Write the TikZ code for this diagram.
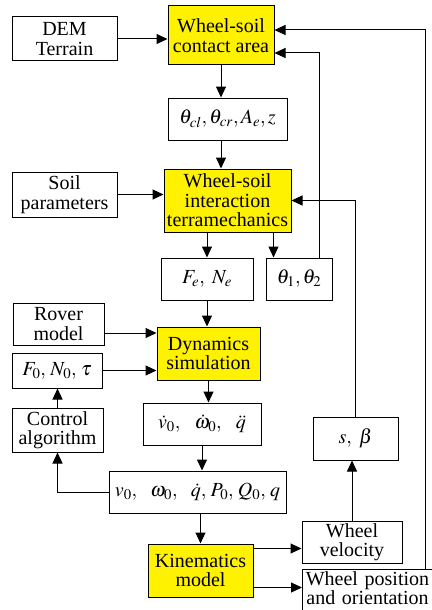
\documentclass[tikz,border=0pt]{standalone}
\usepackage{mathptmx}
\usepackage{fontspec}
\setmainfont{Liberation Serif}
\usetikzlibrary{arrows.meta}
\tikzset{
  box/.style={draw, line width=1pt, inner sep=0pt, align=center,
    font=\fontsize{20}{19.5}\selectfont},
  ybox/.style={box, fill=yellow},
  arr/.style={line width=1pt, -{Triangle[length=11pt,width=10pt]}},
  ln/.style={line width=1pt}
}
\begin{document}
\begin{tikzpicture}[x=1pt,y=-1pt]
\useasboundingbox (0,0) rectangle (431,610);
% nodes
\node[box,  minimum width=105, minimum height=44] (dem) at (64.5,39) {DEM\\Terrain};
\node[ybox, minimum width=106, minimum height=59] (contact) at (221,35.5) {Wheel-soil\\contact area};
\node[box,  minimum width=119, minimum height=42] (thc) at (227.5,119) {$\theta_{cl}, \theta_{cr}, A_e, z$};
\node[box,  minimum width=105, minimum height=45] (soil) at (64.5,194.5) {Soil\\parameters};
\node[ybox, minimum width=127, minimum height=63] (inter) at (227.5,200.5) {Wheel-soil\\interaction\\terramechanics};
\node[box,  minimum width=92,  minimum height=42] (fe) at (207,279) {$F_e,\ N_e$};
\node[box,  minimum width=66,  minimum height=42] (th12) at (299,279) {$\theta_1, \theta_2$};
\node[box,  minimum width=91,  minimum height=42] (rover) at (58.5,324) {Rover\\model};
\node[ybox, minimum width=103, minimum height=53] (dyn) at (208.5,353.5) {Dynamics\\simulation};
\node[box,  minimum width=90,  minimum height=35] (f0) at (57,370.5) {$F_0,\, N_0,\, \tau$};
\node[box,  minimum width=91,  minimum height=44] (ctrl) at (57.5,430) {Control\\algorithm};
\node[box,  minimum width=118, minimum height=42] (dot) at (202,424) {$\dot{v}_0,\hspace{12pt}\dot{\omega}_0,\hspace{12pt}\ddot{q}$};
\node[box,  minimum width=85,  minimum height=43] (sb) at (355.5,438.5) {$s,\ \beta$};
\node[box,  minimum width=177, minimum height=42] (v0) at (197.5,492) {$v_0,\hspace{11pt}\omega_0,\hspace{11pt}\dot{q},\hspace{2pt}P_0,\hspace{2pt}Q_0,\hspace{2pt}q$};
\node[ybox, minimum width=105, minimum height=53] (kin) at (200.5,570.5) {Kinematics\\model};
\node[box,  minimum width=100, minimum height=42] (wv) at (352,542) {Wheel\\velocity};
\node[box,  anchor=north west, text width=124, inner xsep=3pt, inner ysep=2pt] (wp) at (302,569) {Wheel position\\and orientation\\ ~};
% connectors
\draw[arr] (dem.east) -- (dem.east -| contact.west);
\draw[arr] (contact.south) -- (contact.south |- thc.north);
\draw[arr] (contact.south |- thc.south) -- (contact.south |- inter.north);
\draw[arr] (soil.east) -- (soil.east -| inter.west);
\draw[arr] (fe.north |- inter.south) -- (fe.north);
\draw[arr] ([xshift=8pt]th12.north west |- inter.south) -- ([xshift=8pt]th12.north west);
\draw[arr] ([xshift=20pt]th12.north) |- ([yshift=-17.5pt]contact.east);
\draw[arr] (sb.north) |- (inter.east);
\draw[arr] ([xshift=123pt]wp.north west) |- ([yshift=5.5pt]contact.east);
\draw[arr] (fe.south) -- (fe.south |- dyn.north);
\draw[arr] ([yshift=-9pt]rover.east) -- ([yshift=-9pt]rover.east -| dyn.west);
\draw[arr] (f0.east) -- (f0.east -| dyn.west);
\draw[arr] (ctrl.north) -- (ctrl.north |- f0.south);
\draw[arr] (dyn.south) -- (dyn.south |- dot.north);
\draw[arr] (dot.south) -- (dot.south |- v0.north);
\draw[arr] (v0.west) -| (ctrl.south);
\draw[arr] (kin.north |- v0.south) -- (kin.north);
\draw[arr] ([yshift=-5pt]kin.north east) -- ([yshift=-5pt]kin.north east -| wv.west);
\draw[arr] ([yshift=10pt]kin.south east) -- ([yshift=10pt]kin.south east -| wp.west);
\draw[arr] (wv.north) -- (wv.north |- sb.south);
\end{tikzpicture}
\end{document}
